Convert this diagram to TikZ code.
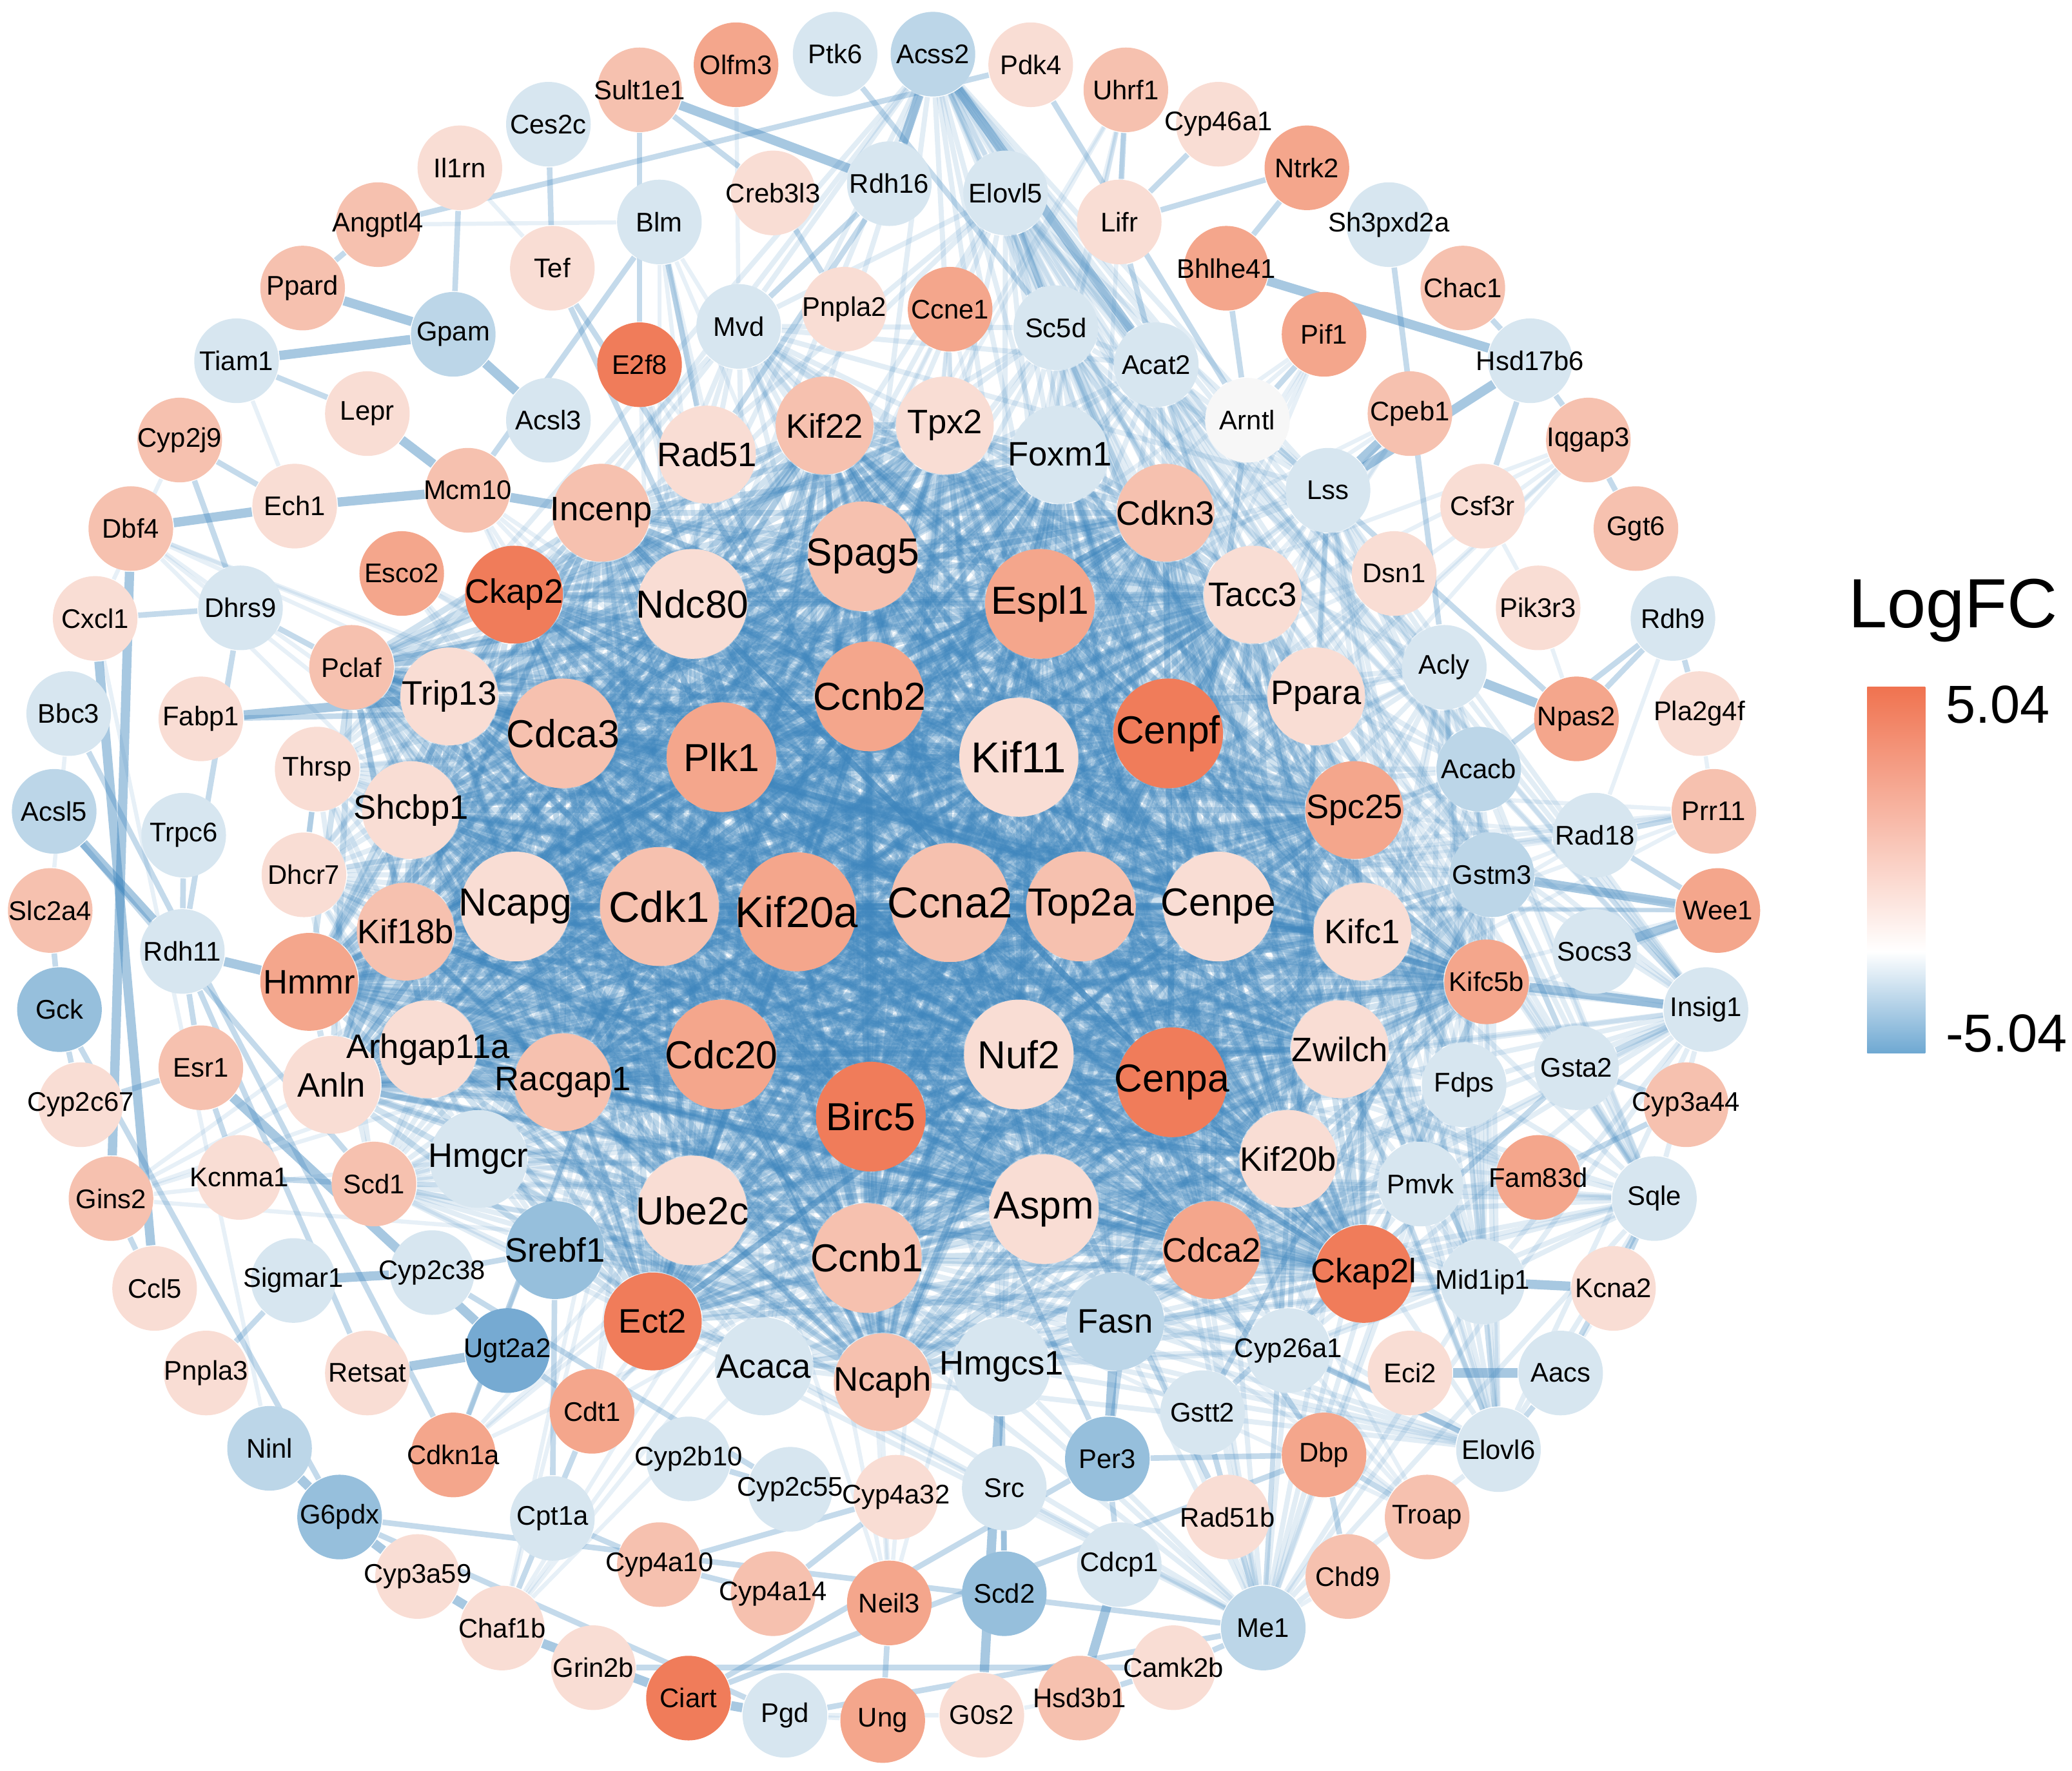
\documentclass[tikz,border=0pt]{standalone}
\usepackage{fontspec}
\setmainfont{Liberation Sans}
\usetikzlibrary{backgrounds}

\definecolor{upA}{RGB}{240,124,90}
\definecolor{upB}{RGB}{244,166,140}
\definecolor{upC}{RGB}{246,193,175}
\definecolor{upD}{RGB}{249,221,212}
\definecolor{wN}{RGB}{247,247,247}
\definecolor{dnD}{RGB}{215,230,240}
\definecolor{dnC}{RGB}{188,214,232}
\definecolor{dnB}{RGB}{150,191,220}
\definecolor{dnA}{RGB}{118,170,210}
\definecolor{eblue}{RGB}{60,132,188}

% cell cycle hub genes and lipid genes
\def\core{Cdk1,Kif20a,Ccna2,Top2a,Cenpe,Kif11,Plk1,Ccnb2,Cenpf,Cdc20,Nuf2,Birc5,
  Cenpa,Ncapg,Aspm,Ccnb1,Ube2c,Cdca3,Ndc80,Spag5,Espl1,Racgap1,Kif18b,Incenp,
  Kif22,Tpx2,Foxm1,Cdkn3,Tacc3,Spc25,Kifc1,Zwilch,Kif20b,Cdca2,Ncaph,Ect2,Hmmr,
  Arhgap11a,Shcbp1,Trip13,Ckap2,Ckap2l,Anln,Pclaf,Kifc5b}
\def\lipid{Fasn,Hmgcs1,Srebf1,Acaca,Acly,Acacb,Sqle,Hmgcr,Fdps,Pmvk,Mvd,Sc5d,
  Acat2,Lss,Dhcr7,Scd1,Insig1,Mid1ip1,Elovl6,Acss2,Thrsp,Me1,Elovl5,Cyp26a1,
  Gstm3,Ppara}

\begin{document}
\begin{tikzpicture}[x=0.01cm, y=-0.01cm,
      gene/.style = {circle, inner sep=0pt, text=black,
                     execute at begin node={\hbox to 0pt\bgroup\hss},
                     execute at end node={\hss\egroup}},
        gS/.style = {gene, minimum size=6.4mm, font=\fontsize{5.8}{7}\selectfont},
        gM/.style = {gene, minimum size=7.4mm, font=\fontsize{7.3}{8}\selectfont},
        gL/.style = {gene, minimum size=8.3mm, font=\fontsize{8.4}{9}\selectfont},
       gXL/.style = {gene, minimum size=9.0mm, font=\fontsize{9.3}{10}\selectfont},
      link/.style = {draw=eblue, line width=1.3pt, draw opacity=.24},
      lipo/.style = {draw=eblue, line width=1.1pt, draw opacity=.15},
       tie/.style = {draw=eblue, line width=1.2pt, draw opacity=.3},
      bond/.style = {draw=eblue, line width=2pt, draw opacity=.45},
     faint/.style = {draw=eblue, line width=.9pt, draw opacity=.12}
                        ]
\useasboundingbox (0,0) rectangle (1568,1340);
%
% outer ring
\node[gS, fill=dnD] (Ptk6)     at (632,41)   {Ptk6};
\node[gS, fill=dnC] (Acss2)    at (706,41)   {Acss2};
\node[gS, fill=upD] (Pdk4)     at (780,49)   {Pdk4};
\node[gS, fill=upC] (Uhrf1)    at (852,68)   {Uhrf1};
\node[gS, fill=upD] (Cyp46a1)  at (922,94)   {Cyp46a1};
\node[gS, fill=upB] (Ntrk2)    at (989,127)  {Ntrk2};
\node[gS, fill=dnD] (Sh3pxd2a) at (1051,170) {Sh3pxd2a};
\node[gS, fill=upC] (Chac1)    at (1107,218) {Chac1};
\node[gS, fill=dnD] (Hsd17b6)  at (1158,273) {Hsd17b6};
\node[gS, fill=upC] (Iqgap3)   at (1202,333) {Iqgap3};
\node[gS, fill=upC] (Ggt6)     at (1238,400) {Ggt6};
\node[gS, fill=dnD] (Rdh9)     at (1266,468) {Rdh9};
\node[gS, fill=upD] (Pla2g4f)  at (1286,540) {Pla2g4f};
\node[gS, fill=upC] (Prr11)    at (1297,614) {Prr11};
\node[gS, fill=upB] (Wee1)     at (1300,689) {Wee1};
\node[gS, fill=dnD] (Insig1)   at (1291,764) {Insig1};
\node[gS, fill=upC] (Cyp3a44)  at (1276,836) {Cyp3a44};
\node[gS, fill=dnD] (Sqle)     at (1252,907) {Sqle};
\node[gS, fill=upD] (Kcna2)    at (1221,975) {Kcna2};
\node[gS, fill=dnD] (Aacs)     at (1181,1039) {Aacs};
\node[gS, fill=dnD] (Elovl6)   at (1134,1097) {Elovl6};
\node[gS, fill=upC] (Troap)    at (1080,1148) {Troap};
\node[gS, fill=upC] (Chd9)     at (1020,1193) {Chd9};
\node[gS, fill=dnC] (Me1)      at (956,1232) {Me1};
\node[gS, fill=upD] (Camk2b)   at (888,1262) {Camk2b};
\node[gS, fill=upC] (Hsd3b1)   at (817,1285) {Hsd3b1};
\node[gS, fill=upD] (G0s2)     at (743,1298) {G0s2};
\node[gS, fill=upB] (Ung)      at (668,1302) {Ung};
\node[gS, fill=dnD] (Pgd)      at (594,1298) {Pgd};
\node[gS, fill=upA] (Ciart)    at (521,1285) {Ciart};
\node[gS, fill=upD] (Grin2b)   at (449,1262) {Grin2b};
\node[gS, fill=upD] (Chaf1b)   at (380,1232) {Chaf1b};
\node[gS, fill=upD] (Cyp3a59)  at (316,1193) {Cyp3a59};
\node[gS, fill=dnB] (G6pdx)    at (257,1148) {G6pdx};
\node[gS, fill=dnC] (Ninl)     at (204,1096) {Ninl};
\node[gS, fill=upD] (Pnpla3)   at (156,1039) {Pnpla3};
\node[gS, fill=upD] (Ccl5)     at (117,975)  {Ccl5};
\node[gS, fill=upC] (Gins2)    at (84,907)   {Gins2};
\node[gS, fill=upD] (Cyp2c67)  at (61,836)   {Cyp2c67};
\node[gS, fill=dnB] (Gck)      at (45,764)   {Gck};
\node[gS, fill=upC] (Slc2a4)   at (38,689)   {Slc2a4};
\node[gS, fill=dnC] (Acsl5)    at (41,614)   {Acsl5};
\node[gS, fill=dnD] (Bbc3)     at (52,540)   {Bbc3};
\node[gS, fill=upD] (Cxcl1)    at (72,468)   {Cxcl1};
\node[gS, fill=upC] (Dbf4)     at (99,400)   {Dbf4};
\node[gS, fill=upC] (Cyp2j9)   at (136,333)  {Cyp2j9};
\node[gS, fill=dnD] (Tiam1)    at (179,273)  {Tiam1};
\node[gS, fill=upC] (Ppard)    at (229,218)  {Ppard};
\node[gS, fill=upC] (Angptl4)  at (286,170)  {Angptl4};
\node[gS, fill=upD] (Il1rn)    at (348,127)  {Il1rn};
\node[gS, fill=dnD] (Ces2c)    at (415,94)   {Ces2c};
\node[gS, fill=upC] (Sult1e1)  at (484,68)   {Sult1e1};
\node[gS, fill=upB] (Olfm3)    at (557,49)   {Olfm3};
% second ring
\node[gS, fill=dnD] (Blm)      at (499,168)  {Blm};
\node[gS, fill=upD] (Creb3l3)  at (585,146)  {Creb3l3};
\node[gS, fill=dnD] (Rdh16)    at (673,139)  {Rdh16};
\node[gS, fill=dnD] (Elovl5)   at (761,146)  {Elovl5};
\node[gS, fill=upD] (Lifr)     at (847,168)  {Lifr};
\node[gS, fill=upB] (Bhlhe41)  at (928,203)  {Bhlhe41};
\node[gS, fill=upB] (Pif1)     at (1002,253) {Pif1};
\node[gS, fill=upC] (Cpeb1)    at (1067,313) {Cpeb1};
\node[gS, fill=upD] (Csf3r)    at (1122,383) {Csf3r};
\node[gS, fill=upD] (Pik3r3)   at (1164,460) {Pik3r3};
\node[gS, fill=upB] (Npas2)    at (1193,544) {Npas2};
\node[gS, fill=dnD] (Rad18)    at (1207,632) {Rad18};
\node[gS, fill=dnD] (Socs3)    at (1207,720) {Socs3};
\node[gS, fill=dnD] (Gsta2)    at (1193,808) {Gsta2};
\node[gS, fill=upB] (Fam83d)   at (1164,891) {Fam83d};
\node[gS, fill=dnD] (Mid1ip1)  at (1122,970) {Mid1ip1};
\node[gS, fill=upD] (Eci2)     at (1067,1039) {Eci2};
\node[gS, fill=upB] (Dbp)      at (1002,1101) {Dbp};
\node[gS, fill=upD] (Rad51b)   at (929,1148) {Rad51b};
\node[gS, fill=dnD] (Cdcp1)    at (847,1184) {Cdcp1};
\node[gS, fill=dnB] (Scd2)     at (760,1206) {Scd2};
\node[gS, fill=upB] (Neil3)    at (673,1213) {Neil3};
\node[gS, fill=upC] (Cyp4a14)  at (585,1206) {Cyp4a14};
\node[gS, fill=upC] (Cyp4a10)  at (499,1184) {Cyp4a10};
\node[gS, fill=dnD] (Cpt1a)    at (418,1149) {Cpt1a};
\node[gS, fill=upB] (Cdkn1a)   at (343,1101) {Cdkn1a};
\node[gS, fill=upD] (Retsat)   at (278,1039) {Retsat};
\node[gS, fill=dnD] (Sigmar1)  at (222,969)  {Sigmar1};
\node[gS, fill=upD] (Kcnma1)   at (181,891)  {Kcnma1};
\node[gS, fill=upC] (Esr1)     at (152,808)  {Esr1};
\node[gS, fill=dnD] (Rdh11)    at (138,720)  {Rdh11};
\node[gS, fill=dnD] (Trpc6)    at (139,632)  {Trpc6};
\node[gS, fill=upD] (Fabp1)    at (152,544)  {Fabp1};
\node[gS, fill=dnD] (Dhrs9)    at (182,460)  {Dhrs9};
\node[gS, fill=upD] (Ech1)     at (223,383)  {Ech1};
\node[gS, fill=upD] (Lepr)     at (278,313)  {Lepr};
\node[gS, fill=dnC] (Gpam)     at (343,253)  {Gpam};
\node[gS, fill=upD] (Tef)      at (418,203)  {Tef};
% third ring
\node[gS, fill=upA] (E2f8)     at (484,276)  {E2f8};
\node[gS, fill=dnD] (Mvd)      at (559,247)  {Mvd};
\node[gS, fill=upD] (Pnpla2)   at (639,234)  {Pnpla2};
\node[gS, fill=upB] (Ccne1)    at (719,234)  {Ccne1};
\node[gS, fill=dnD] (Sc5d)     at (799,248)  {Sc5d};
\node[gS, fill=dnD] (Acat2)    at (875,276)  {Acat2};
\node[gS, fill=wN]  (Arntl)    at (944,318)  {Arntl};
\node[gS, fill=dnD] (Lss)      at (1005,371) {Lss};
\node[gS, fill=upD] (Dsn1)     at (1055,434) {Dsn1};
\node[gS, fill=dnD] (Acly)     at (1093,505) {Acly};
\node[gS, fill=dnC] (Acacb)    at (1119,582) {Acacb};
\node[gS, fill=dnC] (Gstm3)    at (1129,662) {Gstm3};
\node[gS, fill=upB] (Kifc5b)   at (1125,743) {Kifc5b};
\node[gS, fill=dnD] (Fdps)     at (1108,821) {Fdps};
\node[gS, fill=dnD] (Pmvk)     at (1075,896) {Pmvk};
\node[gS, fill=dnD] (Cyp26a1)  at (975,1022) {Cyp26a1};
\node[gS, fill=dnD] (Gstt2)    at (910,1069) {Gstt2};
\node[gS, fill=dnB] (Per3)     at (838,1104) {Per3};
\node[gS, fill=dnD] (Src)      at (760,1126) {Src};
\node[gS, fill=upD] (Cyp4a32)  at (678,1133) {Cyp4a32};
\node[gS, fill=dnD] (Cyp2c55)  at (598,1127) {Cyp2c55};
\node[gS, fill=dnD] (Cyp2b10)  at (521,1104) {Cyp2b10};
\node[gS, fill=upB] (Cdt1)     at (448,1068) {Cdt1};
\node[gS, fill=dnA] (Ugt2a2)   at (384,1022) {Ugt2a2};
\node[gS, fill=dnD] (Cyp2c38)  at (327,963)  {Cyp2c38};
\node[gS, fill=upC] (Scd1)     at (283,896)  {Scd1};
\node[gS, fill=upD] (Dhcr7)    at (230,662)  {Dhcr7};
\node[gS, fill=upD] (Thrsp)    at (240,582)  {Thrsp};
\node[gS, fill=upC] (Pclaf)    at (266,505)  {Pclaf};
\node[gS, fill=upB] (Esco2)    at (304,434)  {Esco2};
\node[gS, fill=upC] (Mcm10)    at (354,371)  {Mcm10};
\node[gS, fill=dnD] (Acsl3)    at (415,318)  {Acsl3};
% fourth ring
\node[gM, fill=upC] (Incenp)   at (455,388)  {Incenp};
\node[gM, fill=upD] (Rad51)    at (535,344)  {Rad51};
\node[gM, fill=upC] (Kif22)    at (624,322)  {Kif22};
\node[gM, fill=upD] (Tpx2)     at (715,322)  {Tpx2};
\node[gM, fill=dnD] (Foxm1)    at (802,344)  {Foxm1};
\node[gM, fill=upC] (Cdkn3)    at (882,388)  {Cdkn3};
\node[gM, fill=upD] (Tacc3)    at (948,450)  {Tacc3};
\node[gM, fill=upD] (Ppara)    at (996,527)  {Ppara};
\node[gM, fill=upB] (Spc25)    at (1025,613) {Spc25};
\node[gM, fill=upD] (Kifc1)    at (1031,705) {Kifc1};
\node[gM, fill=upD] (Zwilch)   at (1014,794) {Zwilch};
\node[gM, fill=upD] (Kif20b)   at (975,877)  {Kif20b};
\node[gM, fill=upB] (Cdca2)    at (917,946)  {Cdca2};
\node[gM, fill=upA] (Ckap2l)   at (1032,964) {Ckap2l};
\node[gM, fill=dnC] (Fasn)     at (844,1000) {Fasn};
\node[gM, fill=dnD] (Hmgcs1)   at (758,1034) {Hmgcs1};
\node[gM, fill=upC] (Ncaph)    at (668,1046) {Ncaph};
\node[gM, fill=dnD] (Acaca)    at (578,1034) {Acaca};
\node[gM, fill=upA] (Ect2)     at (494,1000) {Ect2};
\node[gM, fill=dnB] (Srebf1)   at (420,946)  {Srebf1};
\node[gM, fill=dnD] (Hmgcr)    at (362,877)  {Hmgcr};
\node[gM, fill=upC] (Racgap1)  at (426,819)  {Racgap1};
\node[gM, fill=upD] (Anln)     at (251,821)  {Anln};
\node[gM, fill=upD] (Arhgap11a) at (324,794) {Arhgap11a};
\node[gM, fill=upB] (Hmmr)     at (234,743)  {Hmmr};
\node[gM, fill=upC] (Kif18b)   at (307,705)  {Kif18b};
\node[gM, fill=upD] (Shcbp1)   at (311,613)  {Shcbp1};
\node[gM, fill=upD] (Trip13)   at (340,527)  {Trip13};
\node[gM, fill=upA] (Ckap2)    at (389,450)  {Ckap2};
% hub genes
\node[gL, fill=upD] (Ndc80)    at (524,457)  {Ndc80};
\node[gL, fill=upC] (Spag5)    at (653,421)  {Spag5};
\node[gL, fill=upB] (Espl1)    at (787,457)  {Espl1};
\node[gL, fill=upC] (Cdca3)    at (426,555)  {Cdca3};
\node[gL, fill=upB] (Ccnb2)    at (658,527)  {Ccnb2};
\node[gL, fill=upB] (Plk1)     at (546,573)  {Plk1};
\node[gXL, fill=upD] (Kif11)   at (771,573)  {Kif11};
\node[gL, fill=upA] (Cenpf)    at (884,555)  {Cenpf};
\node[gL, fill=upD] (Ncapg)    at (390,686)  {Ncapg};
\node[gXL, fill=upC] (Cdk1)    at (499,686)  {Cdk1};
\node[gXL, fill=upB] (Kif20a)  at (603,690)  {Kif20a};
\node[gXL, fill=upC] (Ccna2)   at (719,683)  {Ccna2};
\node[gL, fill=upC] (Top2a)    at (818,686)  {Top2a};
\node[gL, fill=upD] (Cenpe)    at (922,686)  {Cenpe};
\node[gL, fill=upB] (Cdc20)    at (546,798)  {Cdc20};
\node[gL, fill=upD] (Nuf2)     at (771,798)  {Nuf2};
\node[gL, fill=upA] (Birc5)    at (659,845)  {Birc5};
\node[gL, fill=upA] (Cenpa)    at (887,819)  {Cenpa};
\node[gL, fill=upD] (Ube2c)    at (524,916)  {Ube2c};
\node[gL, fill=upD] (Aspm)     at (790,915)  {Aspm};
\node[gL, fill=upC] (Ccnb1)    at (656,952)  {Ccnb1};
%
\begin{scope}[on background layer]
\foreach \a [count=\i] in \core {
  \foreach \b [count=\j] in \core {
    \ifnum\j>\i \draw[link] (\a) -- (\b); \fi
  }
}
\foreach \a [count=\i] in \lipid {
  \foreach \b [count=\j] in \lipid {
    \ifnum\j>\i \draw[lipo] (\a) -- (\b); \fi
  }
}
\foreach \a in {Mcm10,Esco2,Dbf4,Gins2,Cdt1,Ccne1,E2f8,Blm,Uhrf1,Pif1,Chaf1b,
                Neil3,Dsn1,Fam83d,Wee1,Troap,Iqgap3,Prr11,Rad51,Rad18,Cdkn1a,Cpeb1}
  \foreach \b in {Cdk1,Ccna2,Top2a,Plk1,Ccnb1,Birc5}
    \draw[faint] (\a) -- (\b);
\foreach \a/\b in {Ppard/Gpam,Tiam1/Gpam,Gpam/Acsl3,Ech1/Mcm10,Dbf4/Ech1,
    Lepr/Mcm10,Mcm10/Incenp,Sult1e1/Rdh16,Acss2/Acat2,Acss2/Rdh16,
    Bhlhe41/Hsd17b6,Hsd17b6/Lss,Aacs/Eci2,Cxcl1/Ccl5,Dbf4/Gins2,
    G6pdx/Cyp3a59,Cyp3a59/Chaf1b,Chaf1b/Ciart,Ciart/Pgd,Hmgcs1/G0s2,
    Fasn/Per3,Cdcp1/Hsd3b1,Mid1ip1/Kcna2,Wee1/Gstm3,Wee1/Socs3,Insig1/Kifc5b,
    Sigmar1/Cyp2c38,Fabp1/Trip13,Retsat/Ugt2a2,Esr1/Ugt2a2,Acsl5/Rdh11,
    Rdh11/Hmmr,Ninl/G6pdx,Lss/Cpeb1,Acly/Npas2}
  \draw[bond] (\a) -- (\b);
\foreach \a/\b in {Il1rn/Gpam,Angptl4/Pdk4,Ces2c/Tef,Tef/Dbp,Tef/Per3,
    Blm/Rad51,Blm/Mcm10,Sult1e1/E2f8,Sult1e1/Creb3l3,Ptk6/Sc5d,Creb3l3/Pnpla2,
    Rdh16/Mvd,Rdh16/Rad51,Elovl5/Sc5d,Pdk4/Arntl,Uhrf1/Lifr,Cyp46a1/Lifr,
    Ntrk2/Lifr,Ntrk2/Bhlhe41,Lifr/Acat2,Sh3pxd2a/Acly,Chac1/Hsd17b6,
    Iqgap3/Hsd17b6,Iqgap3/Ggt6,Hsd17b6/Csf3r,Pif1/Arntl,Bhlhe41/Arntl,
    Npas2/Arntl,Npas2/Rdh9,Rdh9/Acacb,Pla2g4f/Rdh9,Prr11/Rad18,Rad18/Wee1,
    Gsta2/Gstm3,Gsta2/Insig1,Cyp3a44/Gsta2,Cyp3a44/Fam83d,Kcna2/Sqle,
    Aacs/Sqle,Aacs/Elovl6,Elovl6/Cyp26a1,Troap/Dbp,Chd9/Dbp,Rad51b/Rad51,
    Me1/Camk2b,Me1/Gstt2,Cdcp1/Per3,Camk2b/Hsd3b1,Scd2/Hmgcs1,Scd2/Src,
    Ung/Neil3,Ciart/Dbp,Ciart/Per3,Pgd/Me1,G6pdx/Me1,G6pdx/Pgd,
    Pnpla3/Sigmar1,Ccl5/Gins2,Cyp2c67/Gck,Gck/G6pdx,Gck/Slc2a4,Acsl5/Scd1,
    Cxcl1/Dhrs9,Dhrs9/Pclaf,Dhrs9/Rdh11,Trpc6/Rdh11,Fabp1/Ppara,Thrsp/Dhcr7,
    Esr1/Rdh11,Esr1/Kcnma1,Kcnma1/Scd1,Cyp2j9/Dhrs9,Cyp2j9/Ech1,Ppard/Angptl4,
    Retsat/Rdh11,Cyp2c38/Srebf1,Ugt2a2/Cdt1,Cdkn1a/Cdk1,Cpt1a/Srebf1,
    Cpt1a/Cyp4a10,Cyp4a10/Cyp4a14,Cyp4a14/Cyp4a32,Cyp4a32/Cyp4a10,
    Cyp2b10/Cyp2c55,Cyp2c55/Cyp2c38,Grin2b/Camk2b,Gstt2/Gstm3,Gstt2/Gsta2,
    Per3/Dbp,Arntl/Per3,Bbc3/Cdkn1a,Tiam1/Lepr,Cyp2c67/Esr1,Chaf1b/Cdt1}
  \draw[tie] (\a) -- (\b);
\foreach \a/\b in {Il1rn/Tef,Angptl4/Blm,Tiam1/Ech1,Cyp2j9/Cxcl1,Bbc3/Slc2a4,
    Pla2g4f/Prr11,Rad18/Rdh9,Pik3r3/Npas2,Pik3r3/Csf3r,Kcna2/Aacs,Chd9/Me1,
    Rad51b/Me1,Hsd3b1/G0s2,Ung/Pgd,Pgd/G0s2,Olfm3/Mvd,Ninl/Cxcl1}
  \draw[faint] (\a) -- (\b);
\end{scope}
%
% legend
\node[font=\fontsize{15}{17}\selectfont] (lgTitle) at (1478,462) {LogFC};
\shade[top color={rgb,255:red,240;green,115;blue,80}, bottom color=white]
  (1413,520) rectangle (1457,720);
\shade[top color=white, bottom color={rgb,255:red,110;green,168;blue,210}]
  (1413,720) rectangle (1457,797);
\node[anchor=west, font=\fontsize{11.5}{13}\selectfont] (lgHi) at (1460,533) {5.04};
\node[anchor=west, font=\fontsize{11.5}{13}\selectfont] (lgLo) at (1460,782) {-5.04};
\end{tikzpicture}
\end{document}
